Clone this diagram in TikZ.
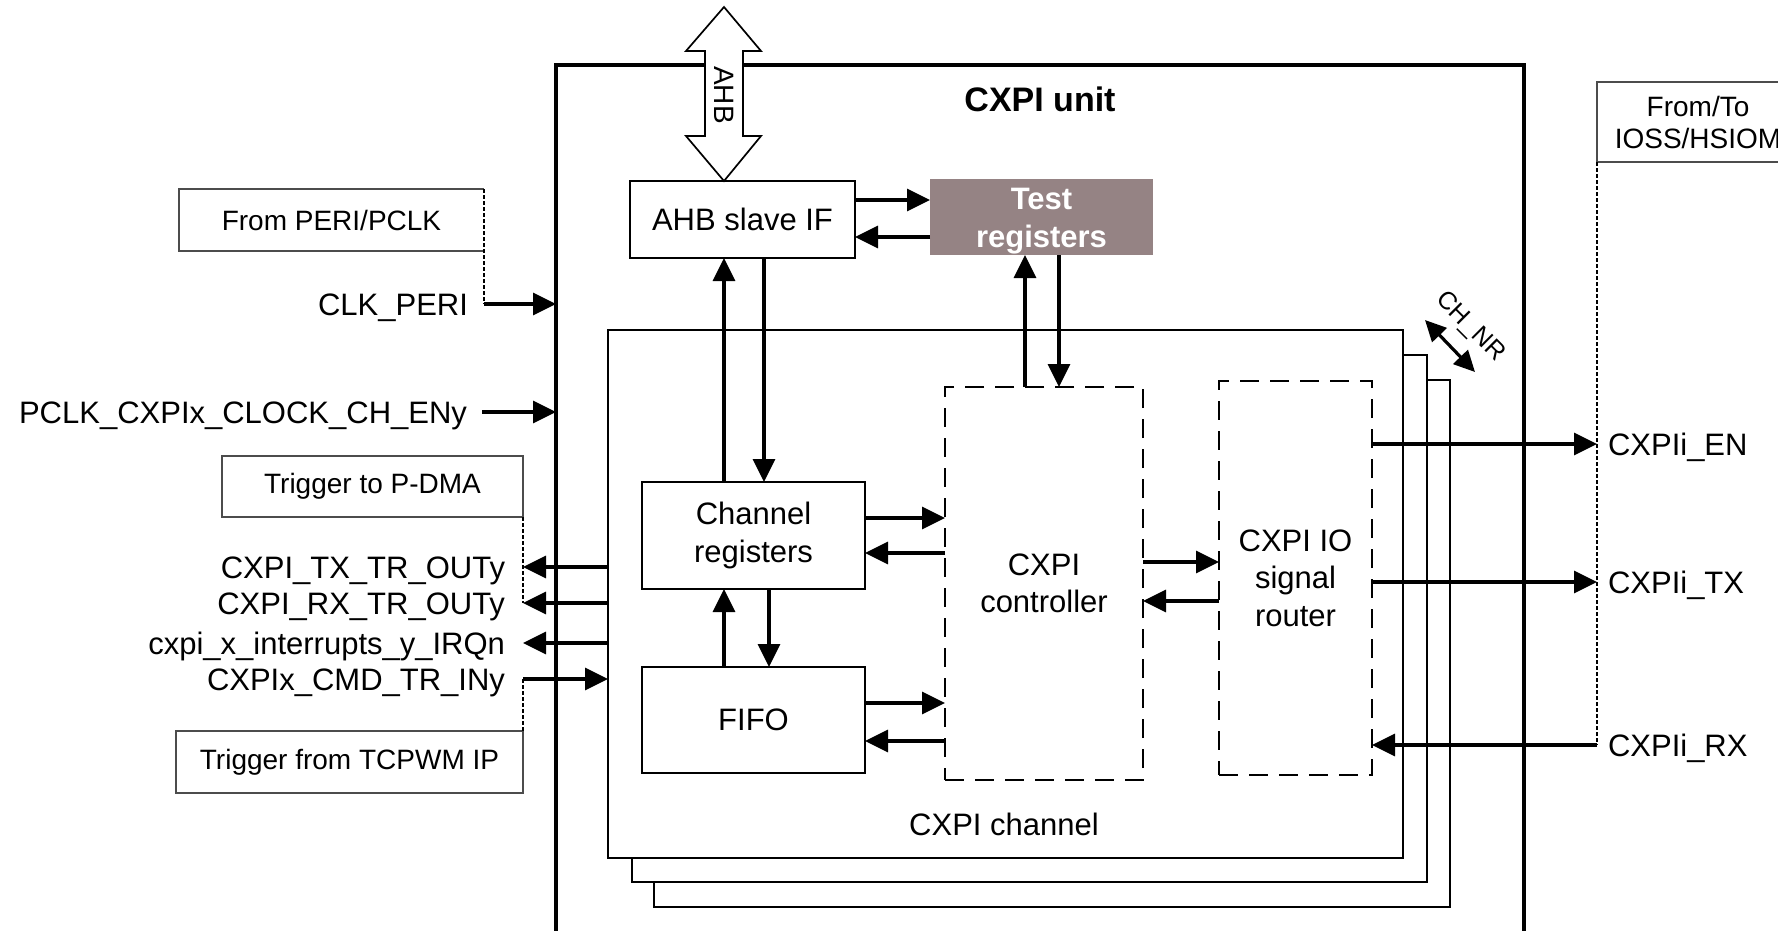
\documentclass[tikz,border=0pt]{standalone}
\usepackage{fontspec}
\setmainfont{Liberation Sans}
\usetikzlibrary{arrows.meta}
\newcommand\fsmain{\fontsize{31}{37.5}\selectfont}
\newcommand\fsbox{\fontsize{28}{32}\selectfont}
\newcommand\fsbig{\fontsize{34}{40}\selectfont}
\newcommand\fssmall{\fontsize{25}{30}\selectfont}
\definecolor{testfill}{RGB}{149,131,132}
\begin{document}
\begin{tikzpicture}[x=1pt,y=-1pt,
  every node/.style={inner sep=0pt,outer sep=0pt},
  conn/.style={line width=3.2pt,-{Triangle[length=23pt,width=22pt]}},
  dconn/.style={line width=3.2pt,{Triangle[length=21pt,width=20pt]}-{Triangle[length=21pt,width=20pt]}},
  blk/.style={draw,line width=2pt,fill=white,anchor=north west,align=center,font=\fsmain},
  chanbox/.style={draw,line width=2pt,fill=white,anchor=north west},
  dbox/.style={draw,line width=2pt,dash pattern=on 19pt off 11pt,anchor=north west,align=center,font=\fsmain},
  ext/.style={draw=black!70,line width=1.3pt,anchor=north west,align=center,font=\fsbox},
  extline/.style={draw=black!70,line width=1.3pt},
  dotl/.style={line width=2.2pt,dash pattern=on 3.5pt off 2.5pt},
  lbl/.style={font=\fsmain},
]
\useasboundingbox (0,0) rectangle (1778,930);
\fill[white] (0,0) rectangle (1778,930);

% outer unit
\node[draw,line width=4.2pt,anchor=north west,minimum width=968pt,minimum height=900pt] (unit) at (556,65) {};
\node[font=\fsbig\bfseries] (unitlbl) at (1040,99) {CXPI unit};

% channel stack
\node[chanbox,minimum width=796pt,minimum height=527pt] (chan3) at (654,380) {};
\node[chanbox,minimum width=795pt,minimum height=527pt] (chan2) at (632,355) {};
\node[chanbox,minimum width=795pt,minimum height=528pt] (chan1) at (608,330) {};
\node[font=\fsmain] (chlbl) at (1004,824) {CXPI channel};

% blocks
\node[blk,minimum width=225pt,minimum height=77pt] (ahbif) at (630,181) {AHB slave IF};
\node[blk,draw=none,fill=testfill,text=white,font=\fsmain\bfseries,minimum width=223pt,minimum height=76pt] (test) at (930,179) {\rule{0pt}{30pt}Test\\registers};
\node[blk,minimum width=223pt,minimum height=107pt] (chreg) at (642,482) {Channel\\registers};
\node[blk,minimum width=223pt,minimum height=106pt] (fifo) at (642,667) {FIFO};
\node[dbox,minimum width=198pt,minimum height=393pt] (ctrl) at (945,387) {CXPI\\controller};
\node[dbox,minimum width=153pt,minimum height=394pt] (router) at (1219,381) {CXPI IO\\signal\\router};

% internal connectors
\draw[conn] (ahbif.east |- 0,200) -- (test.west |- 0,200);
\draw[conn] (test.west |- 0,237) -- (ahbif.east |- 0,237);
\draw[conn] (chreg.north -| 724,0) -- (ahbif.south -| 724,0);
\draw[conn] (ahbif.south -| 764,0) -- (chreg.north -| 764,0);
\draw[conn] (ctrl.north -| 1025,0) -- (test.south -| 1025,0);
\draw[conn] (test.south -| 1059,0) -- (ctrl.north -| 1059,0);
\draw[conn] (fifo.north -| 724,0) -- (chreg.south -| 724,0);
\draw[conn] (chreg.south -| 769,0) -- (fifo.north -| 769,0);
\draw[conn] (chreg.east |- 0,518) -- (ctrl.west |- 0,518);
\draw[conn] (ctrl.west |- 0,553) -- (chreg.east |- 0,553);
\draw[conn] (fifo.east |- 0,703) -- (ctrl.west |- 0,703);
\draw[conn] (ctrl.west |- 0,741) -- (fifo.east |- 0,741);
\draw[conn] (ctrl.east |- 0,562) -- (router.west |- 0,562);
\draw[conn] (router.west |- 0,601) -- (ctrl.east |- 0,601);

% AHB bus arrow
\draw[line width=1.7pt,fill=white] (724,7) -- (761,51) -- (743,51) -- (743,136) -- (761,136)
  -- (ahbif.north -| 724,0) -- (686,136) -- (705,136) -- (705,51) -- (686,51) -- cycle;
\node[font=\fsbox,rotate=-90] (ahblbl) at (724,95) {AHB};

% CH_NR
\coordinate (nra) at (1425,320);
\coordinate (nrb) at (1475,372);
\draw[dconn] (nra) -- (nrb);
\node[font=\fssmall,rotate=-45] (chnr) at (1470,327) {CH\_NR};

% left: clock
\node[ext,draw=none,minimum width=305pt,minimum height=62pt] (peri) at (179,189) {From PERI/PCLK};
\draw[extline] (peri.north east) -- (peri.north west) -- (peri.south west) -- (peri.south east);
\draw[dotl] (peri.north east) -- (peri.east |- 0,304);
\node[lbl,anchor=base east] (clk) at (468,315) {CLK\_PERI};
\draw[conn] (peri.east |- 0,304) -- (unit.west |- 0,304);

\node[lbl,anchor=base east] (pclk) at (467,423) {PCLK\_CXPIx\_CLOCK\_CH\_ENy};
\coordinate (pclkin) at (482,412);
\draw[conn] (pclkin) -- (unit.west |- pclkin);

% left: triggers / interrupts
\node[ext,minimum width=301pt,minimum height=61pt] (pdma) at (222,456) {Trigger to P-DMA};
\draw[dotl] (pdma.south east) -- (pdma.south east |- 0,603);
\node[lbl,anchor=base east] (txtr) at (505,578) {CXPI\_TX\_TR\_OUTy};
\node[lbl,anchor=base east] (rxtr) at (505,614) {CXPI\_RX\_TR\_OUTy};
\node[lbl,anchor=base east] (irq) at (505,654) {cxpi\_x\_interrupts\_y\_IRQn};
\node[lbl,anchor=base east] (cmd) at (505,690) {CXPIx\_CMD\_TR\_INy};
\draw[conn] (chan1.west |- 0,567) -- (pdma.east |- 0,567);
\draw[conn] (chan1.west |- 0,603) -- (pdma.east |- 0,603);
\draw[conn] (chan1.west |- 0,643) -- (pdma.east |- 0,643);
\draw[conn] (pdma.east |- 0,679) -- (chan1.west |- 0,679);
\node[ext,minimum width=347pt,minimum height=62pt] (tcpwm) at (176,731) {Trigger from TCPWM IP};
\draw[dotl] (tcpwm.north east |- 0,679) -- (tcpwm.north east);

% right: IO
\node[ext,draw=none,minimum width=202pt,minimum height=80pt] (fromto) at (1597,82) {From/To\\IOSS/HSIOM};
\draw[extline] (fromto.north east) -- (fromto.north west) -- (fromto.south west) -- (fromto.south east);
\draw[dotl] (fromto.south west) -- (fromto.south west |- 0,745);
\node[lbl,anchor=base west] (en) at (1608,455) {CXPIi\_EN};
\node[lbl,anchor=base west] (tx) at (1608,593) {CXPIi\_TX};
\node[lbl,anchor=base west] (rx) at (1608,756) {CXPIi\_RX};
\draw[conn] (router.east |- 0,444) -- (fromto.west |- 0,444);
\draw[conn] (router.east |- 0,582) -- (fromto.west |- 0,582);
\draw[conn] (fromto.west |- 0,745) -- (router.east |- 0,745);
\end{tikzpicture}
\end{document}
